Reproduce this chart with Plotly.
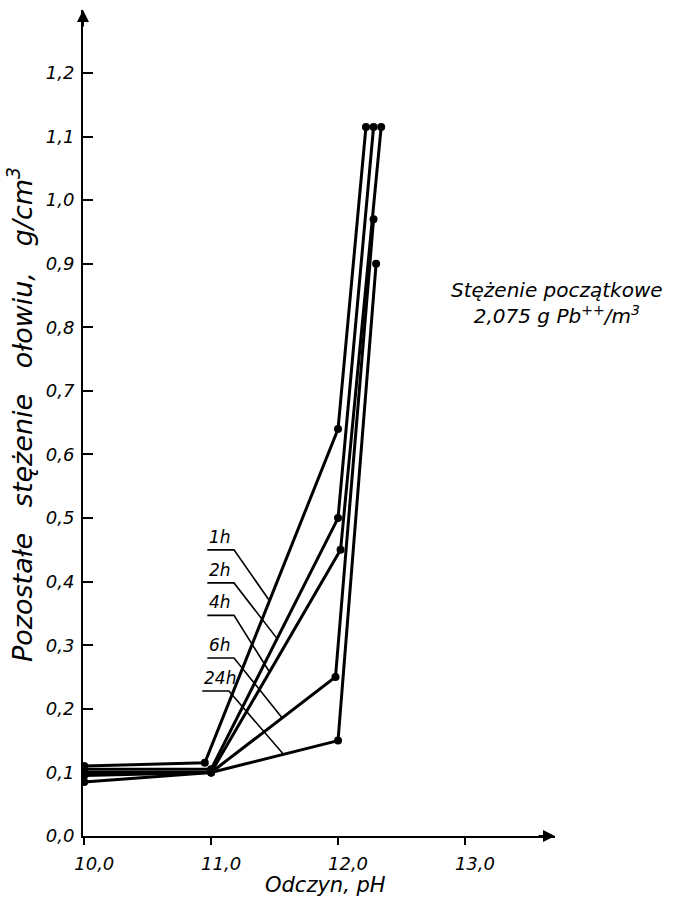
import plotly.graph_objects as go
import numpy as np

# ---- data ----
series_names = ["1h", "2h", "4h", "6h", "24h"]
ph_1h = [10.0, 10.95, 12.0, 12.22]
c_1h = [0.11, 0.115, 0.64, 1.115]
ph_2h = [10.0, 11.0, 12.0, 12.28]
c_2h = [0.105, 0.105, 0.50, 1.115]
ph_4h = [10.0, 11.0, 12.02, 12.34]
c_4h = [0.10, 0.10, 0.45, 1.115]
ph_6h = [10.0, 11.0, 11.98, 12.28]
c_6h = [0.095, 0.10, 0.25, 0.97]
ph_24h = [10.0, 11.0, 12.0, 12.3]
c_24h = [0.085, 0.10, 0.15, 0.90]

x_tickvals = [10, 11, 12, 13]
x_ticktext = ["10,0", "11,0", "12,0", "13,0"]
y_tickvals = [round(0.1 * i, 1) for i in range(13)]
y_ticktext = ["0,0", "0,1", "0,2", "0,3", "0,4", "0,5", "0,6", "0,7",
              "0,8", "0,9", "1,0", "1,1", "1,2"]

# label anchors (data coords) and pH at which leader meets the curve
label_x = [10.97, 10.97, 10.97, 10.97, 10.93]
label_y = [0.45, 0.398, 0.347, 0.28, 0.228]
leader_ph = [11.46, 11.52, 11.46, 11.56, 11.57]

FONT = "DejaVu Sans"
data = [(ph_1h, c_1h), (ph_2h, c_2h), (ph_4h, c_4h), (ph_6h, c_6h), (ph_24h, c_24h)]

fig = go.Figure()
for name, (xs, ys) in zip(series_names, data):
    fig.add_trace(go.Scatter(
        x=xs, y=ys, mode="lines+markers", name=name,
        line=dict(color="black", width=3),
        marker=dict(color="black", size=8),
        showlegend=False))

# leader lines + labels
for name, lx, ly, tph, (xs, ys) in zip(series_names, label_x, label_y, leader_ph, data):
    ty = float(np.interp(tph, xs, ys))
    ux = lx + 0.21
    fig.add_trace(go.Scatter(
        x=[lx, ux, tph], y=[ly, ly, ty], mode="lines",
        line=dict(color="black", width=1.6), showlegend=False, hoverinfo="skip"))
    fig.add_annotation(x=lx, y=ly, xref="x", yref="y", text=name, showarrow=False,
                       xanchor="left", yanchor="bottom", yshift=1,
                       font=dict(family=FONT, size=17, color="black", style="italic"))

fig.update_layout(
    width=684, height=907, autosize=False,
    margin=dict(l=83, r=129, t=10, b=71),
    plot_bgcolor="white", paper_bgcolor="white",
    font=dict(family=FONT, color="black"),
    xaxis=dict(range=[9.99, 13.71], tickvals=x_tickvals, ticktext=x_ticktext,
               ticks="outside", ticklen=7, tickwidth=1.5, tickcolor="black",
               ticklabelshift=10, ticklabelstandoff=3,
               showline=True, linewidth=2, linecolor="black",
               showgrid=False, zeroline=False,
               tickfont=dict(family=FONT, size=18, style="italic")),
    yaxis=dict(range=[0, 1.299], tickvals=y_tickvals, ticktext=y_ticktext,
               ticks="inside", ticklen=10, tickwidth=1.5, tickcolor="black",
               ticklabelstandoff=3,
               showline=True, linewidth=2, linecolor="black",
               showgrid=False, zeroline=False,
               tickfont=dict(family=FONT, size=18, style="italic")),
)

# axis arrows
fig.add_annotation(x=1, y=0, xref="paper", yref="paper", ax=-18, ay=0, text="",
                   showarrow=True, arrowhead=2, arrowsize=1.2, arrowwidth=2, arrowcolor="black")
fig.add_annotation(x=0, y=1, xref="paper", yref="paper", ax=0, ay=18, text="",
                   showarrow=True, arrowhead=2, arrowsize=1.2, arrowwidth=2, arrowcolor="black")

# axis titles
fig.add_annotation(x=-0.133, y=0.51, xref="paper", yref="paper", textangle=-90,
                   xanchor="center", yanchor="middle",
                   text="Pozostałe   stężenie   ołowiu,   g/cm<sup>3</sup>", showarrow=False,
                   font=dict(family=FONT, size=27, style="italic"))
fig.add_annotation(x=0.513, y=-0.059, xref="paper", yref="paper",
                   xanchor="center", yanchor="middle",
                   text="Odczyn, pH", showarrow=False,
                   font=dict(family=FONT, size=21, style="italic"))

# initial concentration note
fig.add_annotation(x=1.004, y=0.645, xref="paper", yref="paper",
                   xanchor="center", yanchor="middle",
                   text="Stężenie początkowe<br>2,075 g Pb<sup>++</sup>/m<sup>3</sup>",
                   showarrow=False, align="center",
                   font=dict(family=FONT, size=20, style="italic"))

fig.write_html("out.html")
